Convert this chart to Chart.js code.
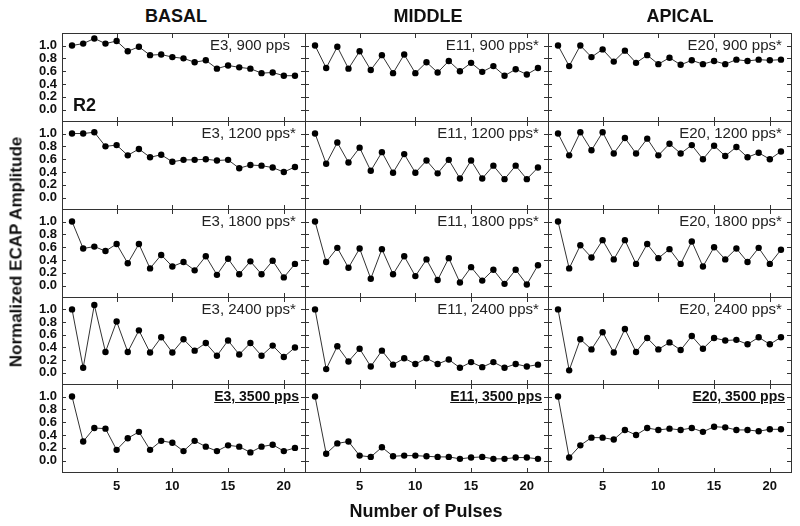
<!DOCTYPE html>
<html><head><meta charset="utf-8">
<script src="https://cdn.jsdelivr.net/npm/chart.js@4/dist/chart.umd.min.js"></script>
<style>
body{margin:0;background:#fff;width:800px;height:526px;position:relative;overflow:hidden;font-family:Arial,"Liberation Sans",sans-serif;color:#111}
canvas{position:absolute}
.t{position:absolute;white-space:nowrap}
</style></head><body>
<script>
// pulse number (x) and normalized amplitudes per panel
const pulses = [1,2,3,4,5,6,7,8,9,10,11,12,13,14,15,16,17,18,19,20,21];

const basal900  = [1.00,1.03,1.11,1.03,1.07,0.91,0.98,0.85,0.86,0.82,0.80,0.74,0.77,0.64,0.69,0.66,0.64,0.57,0.58,0.53,0.53];
const basal1200 = [1.00,1.00,1.02,0.80,0.82,0.66,0.76,0.63,0.67,0.56,0.59,0.59,0.60,0.58,0.59,0.46,0.51,0.50,0.47,0.40,0.48];
const basal1800 = [1.00,0.58,0.61,0.54,0.65,0.35,0.65,0.27,0.48,0.30,0.37,0.24,0.46,0.17,0.42,0.18,0.38,0.18,0.39,0.13,0.34];
const basal2400 = [1.00,0.08,1.07,0.33,0.81,0.33,0.67,0.32,0.56,0.32,0.53,0.35,0.47,0.27,0.51,0.29,0.47,0.27,0.43,0.25,0.40];
const basal3500 = [1.00,0.30,0.51,0.50,0.17,0.35,0.45,0.17,0.31,0.28,0.15,0.31,0.22,0.15,0.24,0.22,0.13,0.22,0.25,0.15,0.20];

const middle900  = [1.00,0.65,0.98,0.64,0.91,0.62,0.85,0.57,0.86,0.57,0.74,0.58,0.76,0.60,0.73,0.59,0.68,0.53,0.63,0.55,0.65];
const middle1200 = [1.00,0.53,0.86,0.55,0.78,0.42,0.71,0.39,0.68,0.39,0.58,0.38,0.59,0.30,0.58,0.30,0.50,0.29,0.50,0.29,0.47];
const middle1800 = [1.00,0.37,0.59,0.28,0.58,0.11,0.57,0.18,0.46,0.15,0.41,0.09,0.43,0.05,0.29,0.08,0.25,0.03,0.25,0.02,0.32];
const middle2400 = [1.00,0.06,0.42,0.18,0.38,0.10,0.35,0.13,0.23,0.14,0.23,0.14,0.21,0.08,0.17,0.09,0.17,0.08,0.14,0.10,0.13];
const middle3500 = [1.00,0.11,0.27,0.30,0.08,0.06,0.21,0.07,0.08,0.08,0.07,0.06,0.06,0.03,0.05,0.06,0.03,0.03,0.05,0.05,0.03];

const apical900  = [1.00,0.68,1.00,0.82,0.94,0.75,0.92,0.73,0.85,0.71,0.81,0.70,0.77,0.71,0.76,0.71,0.78,0.76,0.78,0.77,0.78];
const apical1200 = [1.00,0.66,1.02,0.74,1.02,0.69,0.93,0.69,0.92,0.66,0.84,0.69,0.82,0.60,0.81,0.65,0.79,0.63,0.70,0.60,0.72];
const apical1800 = [1.00,0.27,0.63,0.44,0.71,0.41,0.71,0.34,0.65,0.43,0.57,0.34,0.69,0.30,0.60,0.41,0.58,0.37,0.59,0.34,0.56];
const apical2400 = [1.00,0.04,0.53,0.37,0.64,0.32,0.69,0.33,0.55,0.37,0.48,0.36,0.58,0.38,0.55,0.51,0.52,0.45,0.56,0.45,0.56];
const apical3500 = [1.00,0.05,0.24,0.36,0.36,0.33,0.48,0.40,0.51,0.48,0.50,0.48,0.51,0.45,0.53,0.52,0.48,0.48,0.46,0.49,0.49];

const columns = ['BASAL','MIDDLE','APICAL'];
const electrodes = ['E3','E11','E20'];
const rates = ['900','1200','1800','2400','3500'];
const starred = [[false,true,true],[true,true,true],[true,true,true],[true,true,true],[false,false,false]];
const yTicks = [0,0.2,0.4,0.6,0.8,1.0];
const xTicks = [5,10,15,20];

const series = [
  [basal900, middle900, apical900],
  [basal1200, middle1200, apical1200],
  [basal1800, middle1800, apical1800],
  [basal2400, middle2400, apical2400],
  [basal3500, middle3500, apical3500]
];

// panel grid (page px)
const colX = [62,305,548,791];
const rowY = [33,121,209,297,384,472];
const PAD = 6, LEFT = 62, BOTTOM = 36;
const FONT = 'Arial, "Liberation Sans", sans-serif';
const INK = '#333';

const framePlugin = {
  id:'frame',
  afterDraw(chart){
    const {ctx, chartArea:a, scales:{x,y}} = chart;
    ctx.save();
    ctx.strokeStyle = INK; ctx.lineWidth = 1;
    ctx.strokeRect(a.left+0.5, a.top+0.5, a.right-a.left, a.bottom-a.top);
    ctx.beginPath();
    xTicks.forEach(v=>{
      const px = Math.round(x.getPixelForValue(v))+0.5;
      ctx.moveTo(px, a.top); ctx.lineTo(px, a.top+5);
      ctx.moveTo(px, a.bottom); ctx.lineTo(px, a.bottom-4);
    });
    yTicks.forEach(v=>{
      const py = Math.round(y.getPixelForValue(v))+0.5;
      ctx.moveTo(a.left, py); ctx.lineTo(a.left+4, py);
      ctx.moveTo(a.right+1, py); ctx.lineTo(a.right-4, py);
    });
    ctx.stroke();
    ctx.restore();
  }
};

function noPad(s){ s.paddingTop = 0; s.paddingBottom = 0; s.paddingLeft = 0; s.paddingRight = 0; }

function addText(txt, css){
  const d = document.createElement('div');
  d.className = 't';
  d.style.cssText += css;
  d.innerHTML = txt;
  document.body.appendChild(d);
  return d;
}

for (let r=0;r<5;r++) for (let c=0;c<3;c++){
  const padL = c===0 ? LEFT : PAD, padB = r===4 ? BOTTOM : PAD;
  const w = colX[c+1]-colX[c], h = rowY[r+1]-rowY[r];
  const cv = document.createElement('canvas');
  cv.width = w+padL+PAD; cv.height = h+PAD+padB;
  cv.style.left = (colX[c]-padL)+'px'; cv.style.top = (rowY[r]-PAD)+'px';
  cv.style.width = cv.width+'px'; cv.style.height = cv.height+'px';
  document.body.appendChild(cv);
  new Chart(cv, {
    type:'line',
    data:{datasets:[{
      data: pulses.map((p,i)=>({x:p, y:series[r][c][i]})),
      borderColor:INK, borderWidth:1, tension:0,
      pointRadius:3.2, pointBackgroundColor:'#000', pointBorderWidth:0
    }]},
    options:{
      responsive:false, animation:false, devicePixelRatio:1,
      layout:{padding:{top:PAD,right:PAD,left:0,bottom:0}},
      plugins:{legend:{display:false}, tooltip:{enabled:false}},
      scales:{
        x:{type:'linear', min:0.1, max:21.9,
          grid:{display:false, drawTicks:false}, border:{display:false},
          ticks:{display:r===4, autoSkip:false, maxRotation:0, padding:7, color:'#111', font:{family:FONT, size:13, weight:'bold'}, callback:v=>String(v)},
          afterBuildTicks:s=>{ s.ticks = xTicks.map(v=>({value:v})); },
          afterFit:s=>{ s.height = padB; noPad(s); }},
        y:{type:'linear', min:-0.175, max:1.195,
          grid:{display:false, drawTicks:false}, border:{display:false},
          ticks:{display:c===0, autoSkip:false, padding:5, color:'#111', font:{family:FONT, size:13, weight:'bold'}, callback:v=>Number(v).toFixed(1)},
          afterBuildTicks:s=>{ s.ticks = yTicks.map(v=>({value:v})); },
          afterFit:s=>{ s.width = padL; noPad(s); }}
      }
    },
    plugins:[framePlugin]
  });

  // panel label
  const right = 800 - colX[c+1];
  const label = electrodes[c]+', '+rates[r]+' pps';
  if (r===4){
    addText(label, `top:${rowY[r]+5}px;right:${right+6}px;font:bold 14px/14px ${FONT};text-decoration:underline;color:#111`);
  } else {
    addText(label+(starred[r][c]?'<span style="position:absolute;left:100%">*</span>':''),
      `top:${rowY[r]+4}px;right:${right+15}px;font:15px/15px ${FONT};color:#222`);
  }
}

// column titles
const titleX = [176,428,680];
columns.forEach((t,i)=>addText(t, `top:7px;left:${titleX[i]}px;transform:translateX(-50%);font:bold 18px/18px ${FONT}`));
addText('R2', `top:96px;left:73px;font:bold 18px/18px ${FONT}`);
addText('Normalized ECAP Amplitude', `top:252px;left:16px;transform:translate(-50%,-50%) rotate(-90deg);font:bold 17px/17px ${FONT}`);
addText('Number of Pulses', `top:502px;left:426px;transform:translateX(-50%);font:bold 18px/18px ${FONT}`);
</script>
</body></html>
